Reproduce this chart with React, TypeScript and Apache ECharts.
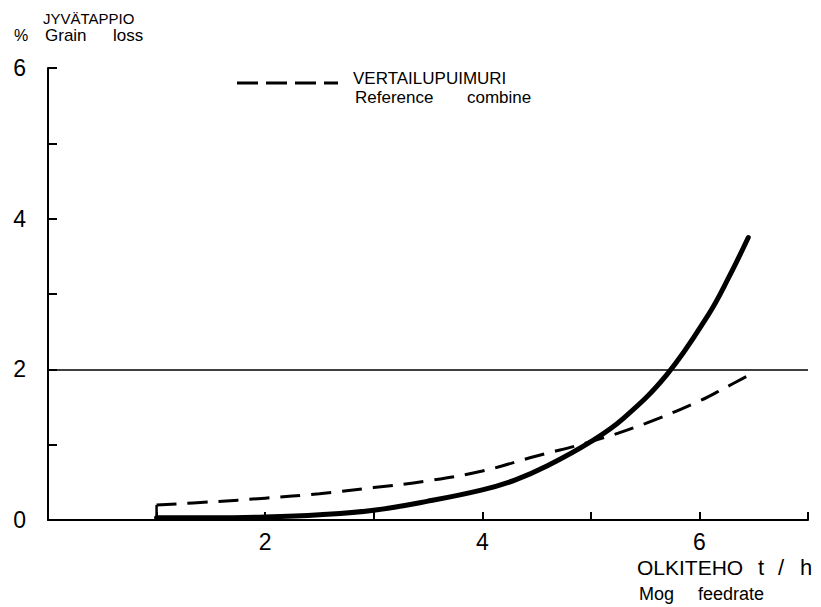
import React, { useEffect, useRef } from "react";
import * as echarts from "echarts";

const xLabelValues = [2, 4, 6];
const yLabelValues = [0, 2, 4, 6];

const sampleX = [1.0, 1.5, 2.0, 2.5, 3.0, 3.5, 4.0, 4.3, 4.6, 5.0, 5.3, 5.7, 6.08, 6.27, 6.45];
const sampleLoss = [0.03, 0.03, 0.04, 0.07, 0.13, 0.25, 0.4, 0.53, 0.72, 1.04, 1.35, 1.93, 2.72, 3.22, 3.75];

const refX = [1.0, 1.5, 2.0, 2.5, 3.0, 3.5, 4.0, 4.5, 5.0, 5.5, 6.0, 6.23, 6.48];
const refLoss = [0.2, 0.24, 0.29, 0.35, 0.43, 0.52, 0.65, 0.85, 1.04, 1.28, 1.58, 1.75, 1.94];
const refStub = [[1.0, 0], [1.0, 0.2]];

const limitLine = 2;

const FONT = "'Liberation Sans', Arial, sans-serif";

export default function App() {
  const ref = useRef<HTMLDivElement>(null);
  useEffect(() => {
    if (!ref.current) return;
    const chart = echarts.init(ref.current, undefined, { renderer: "svg" });
    const txt = (text: string, x: number, y: number, size: number, align = "left") => ({
      type: "text",
      x,
      y,
      silent: true,
      style: {
        text,
        fontSize: size,
        fontFamily: FONT,
        fill: "#000",
        align,
        verticalAlign: "middle",
      },
    });
    chart.setOption({
      animation: false,
      backgroundColor: "#fff",
      grid: { left: 48, right: 13, top: 68, bottom: 87, containLabel: false },
      xAxis: {
        type: "value",
        min: 0,
        max: 7,
        interval: 1,
        axisLine: { show: true, onZero: false, lineStyle: { color: "#000", width: 2 } },
        axisTick: { show: true, inside: true, length: 8, lineStyle: { color: "#000", width: 2 } },
        axisLabel: {
          margin: 10,
          fontSize: 23,
          fontFamily: FONT,
          color: "#000",
          formatter: (v: number) => (xLabelValues.includes(v) ? String(v) : ""),
        },
        splitLine: { show: false },
      },
      yAxis: {
        type: "value",
        min: 0,
        max: 6,
        interval: 1,
        axisLine: { show: true, lineStyle: { color: "#000", width: 2 } },
        axisTick: { show: true, inside: true, length: 9, lineStyle: { color: "#000", width: 2 } },
        axisLabel: {
          margin: 22,
          fontSize: 23,
          fontFamily: FONT,
          color: "#000",
          formatter: (v: number) => (yLabelValues.includes(v) ? String(v) : ""),
        },
        splitLine: { show: false },
      },
      series: [
        {
          name: "Sample",
          type: "line",
          data: sampleX.map((x, i) => [x, sampleLoss[i]]),
          smooth: 0.4,
          symbol: "none",
          lineStyle: { color: "#000", width: 5, cap: "round" },
          markLine: {
            silent: true,
            symbol: ["none", "none"],
            label: { show: false },
            lineStyle: { color: "#000", width: 1.5, type: "solid" },
            data: [{ yAxis: limitLine }],
          },
          z: 3,
        },
        {
          name: "Reference combine",
          type: "line",
          data: refX.map((x, i) => [x, refLoss[i]]),
          smooth: 0.4,
          symbol: "none",
          lineStyle: { color: "#000", width: 3, type: [20, 11] },
          z: 2,
        },
        {
          name: "stub",
          type: "line",
          data: refStub,
          symbol: "none",
          lineStyle: { color: "#000", width: 2.5 },
          z: 2,
        },
      ],
      graphic: [
        txt("JYVÄTAPPIO", 43, 18, 15),
        txt("%", 14, 35, 16),
        txt("Grain", 45, 35, 17),
        txt("loss", 113, 35, 17),
        {
          type: "line",
          silent: true,
          shape: { x1: 237, y1: 83, x2: 338, y2: 83 },
          style: { stroke: "#000", lineWidth: 3, lineDash: [21, 8] },
        },
        txt("VERTAILUPUIMURI", 353, 78, 17),
        txt("Reference", 355, 97, 17),
        txt("combine", 467, 97, 17),
        txt("OLKITEHO", 637, 567, 21),
        txt("t", 758, 567, 22),
        txt("/", 778, 567, 22),
        txt("h", 800, 567, 22),
        txt("Mog", 639, 594, 18),
        txt("feedrate", 698, 594, 18),
      ],
    });
    return () => chart.dispose();
  }, []);
  return (
    <div
      ref={ref}
      style={{ position: "fixed", left: 0, top: 0, width: 821, height: 607, background: "#fff" }}
    />
  );
}
